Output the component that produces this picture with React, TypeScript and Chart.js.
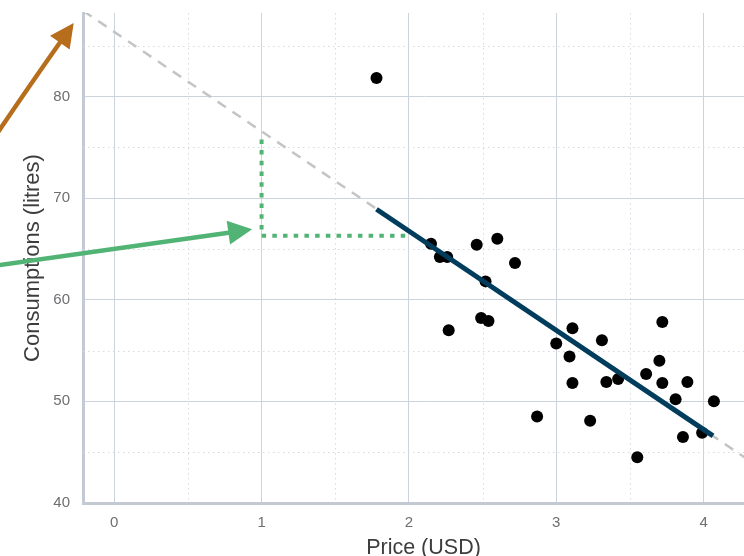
import React, { useEffect, useRef } from "react";
import { Chart, registerables } from "chart.js";

Chart.register(...registerables);

// Observed points
const priceUSD = [2.15, 2.21, 2.26, 2.46, 2.6, 2.72, 2.52, 2.49, 2.54, 2.27, 2.87, 3.11, 3.0, 3.09, 3.11, 3.31, 3.34, 3.42, 3.23, 3.55, 3.61, 3.72, 3.7, 3.72, 3.89, 3.81, 4.07, 3.86, 3.99, 1.78];
const consumptionLitres = [65.5, 64.2, 64.2, 65.4, 66.0, 63.6, 61.8, 58.2, 57.9, 57.0, 48.5, 57.2, 55.7, 54.4, 51.8, 56.0, 51.9, 52.2, 48.1, 44.5, 52.7, 57.8, 54.0, 51.8, 51.9, 50.2, 50.0, 46.5, 46.9, 81.8];

// Fitted regression segment (solid) and its extension (dashed)
const fitX = [1.78, 4.064];
const fitY = [68.9, 46.6];
const extX = [-0.21, 4.41];
const extY = [88.4, 43.2];

// Slope triangle (green dotted)
const slopeX = [1.975, 1, 1];
const slopeY = [66.3, 66.3, 75.9];

// Annotation arrows (data coordinates): start, control, tip
const orangeArrowX = [-0.812, -0.574, -0.275];
const orangeArrowY = [75.98, 81.08, 87.21];
const greenArrowX = [-0.812, 0.06, 0.936];
const greenArrowY = [63.34, 65.13, 66.92];

// Axis ranges & ticks
const xRange = [-0.212, 4.41];
const yRange = [40, 88.2];
const minorXTicks = [0.5, 1.5, 2.5, 3.5];
const minorYTicks = [45, 55, 65, 75, 85];

const FONT = "'Liberation Sans', Arial, Helvetica, sans-serif";
const CANVAS_W = 770;
const CANVAS_H = 566;

const toPts = (xs: number[], ys: number[]) => xs.map((x, i) => ({ x, y: ys[i] }));

const minorGrid = {
  id: "minorGrid",
  beforeDatasetsDraw(chart: any) {
    const { ctx, chartArea, scales } = chart;
    ctx.save();
    ctx.beginPath();
    ctx.rect(chartArea.left, chartArea.top, chartArea.right - chartArea.left, chartArea.bottom - chartArea.top);
    ctx.clip();
    ctx.strokeStyle = "#d6dbe1";
    ctx.lineWidth = 1;
    ctx.setLineDash([1.5, 3.5]);
    minorXTicks.forEach((v) => {
      const px = Math.round(scales.x.getPixelForValue(v)) + 0.5;
      ctx.beginPath();
      ctx.moveTo(px, chartArea.top);
      ctx.lineTo(px, chartArea.bottom);
      ctx.stroke();
    });
    minorYTicks.forEach((v) => {
      const py = Math.round(scales.y.getPixelForValue(v)) + 0.5;
      ctx.beginPath();
      ctx.moveTo(chartArea.left, py);
      ctx.lineTo(chartArea.right, py);
      ctx.stroke();
    });
    ctx.restore();
  },
};

function drawArrow(ctx: CanvasRenderingContext2D, p0: number[], c: number[], tip: number[], color: string) {
  const headLen = 24;
  const headHalf = 12;
  const dx = tip[0] - c[0];
  const dy = tip[1] - c[1];
  const len = Math.hypot(dx, dy);
  const ux = dx / len;
  const uy = dy / len;
  const bx = tip[0] - ux * headLen;
  const by = tip[1] - uy * headLen;
  ctx.save();
  ctx.strokeStyle = color;
  ctx.fillStyle = color;
  ctx.lineWidth = 4.5;
  ctx.lineCap = "butt";
  ctx.beginPath();
  ctx.moveTo(p0[0], p0[1]);
  ctx.quadraticCurveTo(c[0], c[1], bx + ux * 2, by + uy * 2);
  ctx.stroke();
  ctx.beginPath();
  ctx.moveTo(tip[0], tip[1]);
  ctx.lineTo(bx - uy * headHalf, by + ux * headHalf);
  ctx.lineTo(bx + uy * headHalf, by - ux * headHalf);
  ctx.closePath();
  ctx.fill();
  ctx.restore();
}

const arrows = {
  id: "arrows",
  afterDraw(chart: any) {
    const { ctx, scales } = chart;
    const px = (xs: number[], ys: number[], i: number) => [scales.x.getPixelForValue(xs[i]), scales.y.getPixelForValue(ys[i])];
    drawArrow(ctx, px(orangeArrowX, orangeArrowY, 0), px(orangeArrowX, orangeArrowY, 1), px(orangeArrowX, orangeArrowY, 2), "#b66d1c");
    drawArrow(ctx, px(greenArrowX, greenArrowY, 0), px(greenArrowX, greenArrowY, 1), px(greenArrowX, greenArrowY, 2), "#52b474");
  },
};

export default function App() {
  const ref = useRef<HTMLCanvasElement>(null);
  useEffect(() => {
    const chart = new Chart(ref.current as HTMLCanvasElement, {
      type: "scatter",
      data: {
        datasets: [
          {
            data: toPts(fitX, fitY),
            showLine: true,
            borderColor: "#003d5c",
            borderWidth: 5,
            pointRadius: 0,
            borderCapStyle: "butt",
          } as any,
          {
            data: toPts(priceUSD, consumptionLitres),
            backgroundColor: "#000000",
            borderWidth: 0,
            pointRadius: 6,
          },
          {
            data: toPts(slopeX, slopeY),
            showLine: true,
            borderColor: "#52b474",
            borderWidth: 4,
            borderDash: [4.5, 6.2],
            borderCapStyle: "butt",
            pointRadius: 0,
          } as any,
          {
            data: toPts(extX, extY),
            showLine: true,
            borderColor: "#c4c4c4",
            borderWidth: 2.5,
            borderDash: [10, 8],
            pointRadius: 0,
          } as any,
        ],
      },
      options: {
        responsive: false,
        animation: false,
        devicePixelRatio: 1,
        layout: { padding: { top: 13, left: 0, right: 0, bottom: 0 } },
        plugins: { legend: { display: false }, tooltip: { enabled: false } },
        scales: {
          x: {
            type: "linear",
            min: xRange[0],
            max: xRange[1],
            ticks: { stepSize: 1, includeBounds: false, padding: 11, color: "#6e6e73", font: { size: 15, family: FONT } },
            grid: { color: "#cdd3db", lineWidth: 1, drawTicks: false },
            border: { color: "#c3cad4", width: 3 },
            title: { display: true, text: "Price (USD)", color: "#3d3d3d", font: { size: 21.5, family: FONT }, padding: { top: 0, bottom: 5 } },
            afterFit: (s: any) => {
              s.height = CANVAS_H - 503;
              s.paddingLeft = 0;
              s.paddingRight = 0;
            },
          },
          y: {
            type: "linear",
            min: yRange[0],
            max: yRange[1],
            ticks: { stepSize: 10, includeBounds: false, padding: 13, color: "#6e6e73", font: { size: 15, family: FONT } },
            grid: { color: "#cdd3db", lineWidth: 1, drawTicks: false },
            border: { color: "#c3cad4", width: 3 },
            title: { display: true, text: "Consumptions (litres)", color: "#3d3d3d", font: { size: 22, family: FONT }, padding: { top: 20, bottom: 0 } },
            afterFit: (s: any) => {
              s.width = 83;
              s.paddingTop = 0;
              s.paddingBottom = 0;
            },
          },
        },
      } as any,
      plugins: [minorGrid, arrows],
    });
    return () => chart.destroy();
  }, []);
  return (
    <div style={{ position: "fixed", left: 0, top: 0, width: 744, height: 556, overflow: "hidden", background: "#ffffff" }}>
      <canvas ref={ref} width={CANVAS_W} height={CANVAS_H} style={{ display: "block", width: CANVAS_W, height: CANVAS_H }} />
    </div>
  );
}
